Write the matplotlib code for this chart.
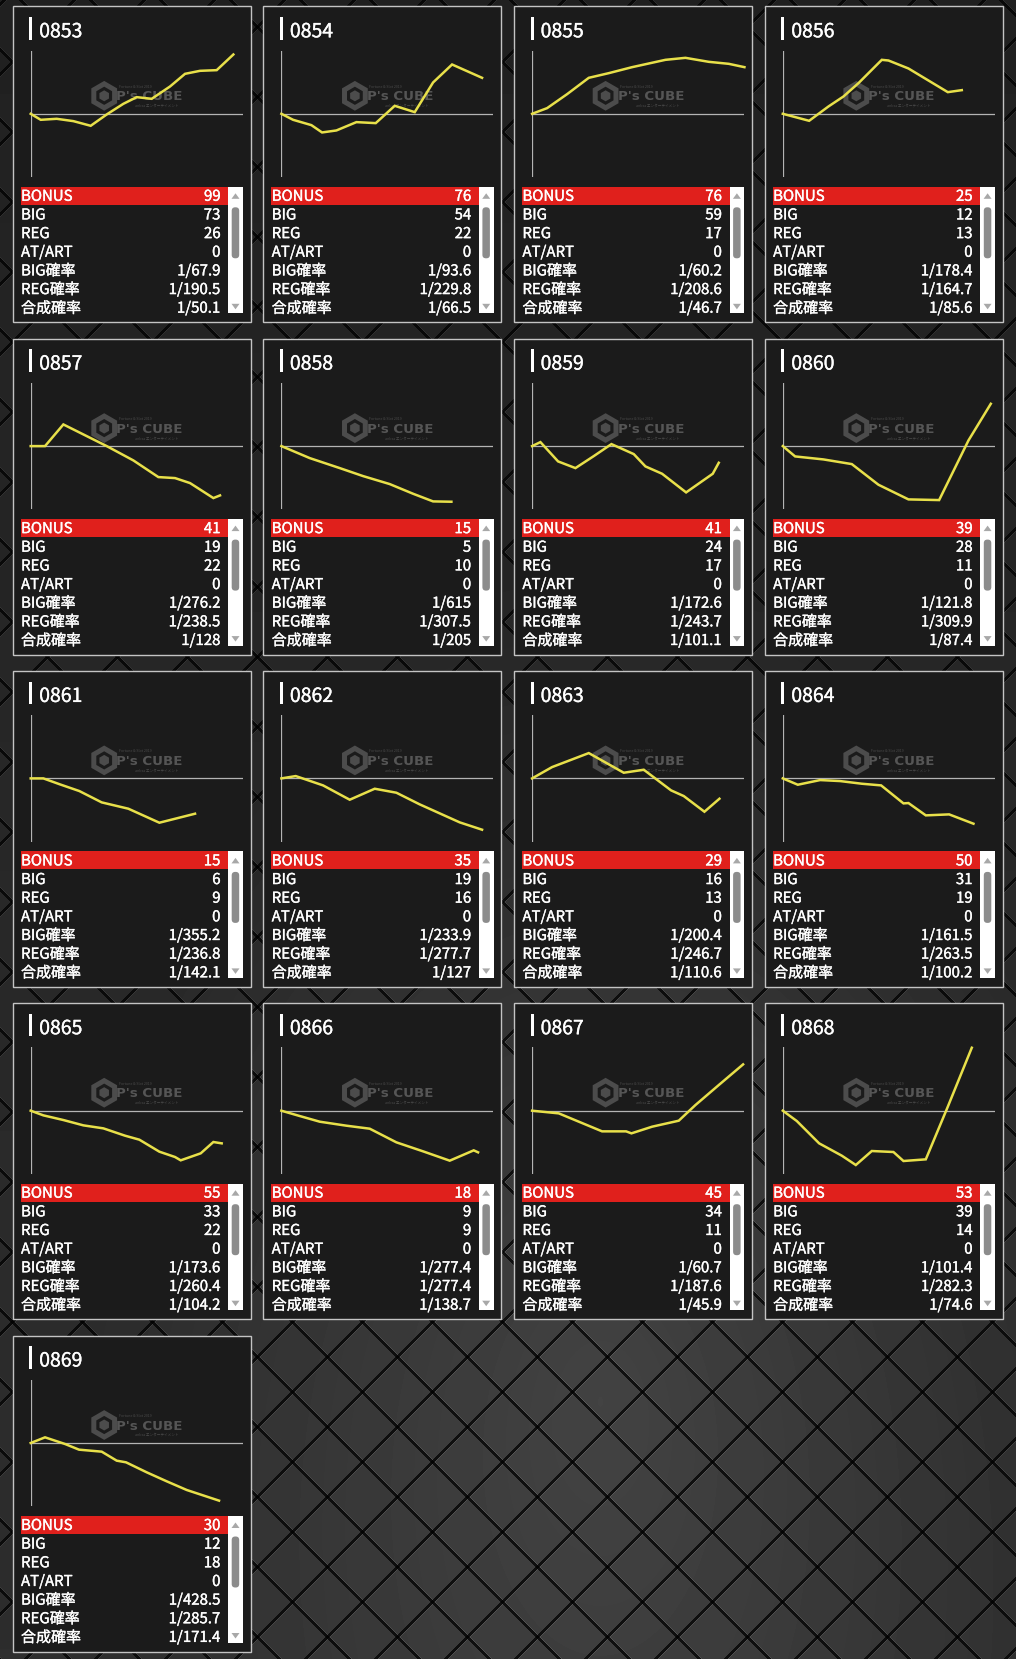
import numpy as np
import matplotlib.pyplot as plt
import matplotlib.patheffects as pe
from matplotlib.patches import Rectangle, FancyBboxPatch, RegularPolygon, Polygon

plt.rcParams['font.family'] = ['Noto Sans CJK JP', 'DejaVu Sans']

W, H = 1016, 1659

# --- data -------------------------------------------------------------
machines = ['0853', '0854', '0855', '0856', '0857', '0858', '0859', '0860', '0861',
            '0862', '0863', '0864', '0865', '0866', '0867', '0868', '0869']
bonus = [99, 76, 76, 25, 41, 15, 41, 39, 15, 35, 29, 50, 55, 18, 45, 53, 30]
big = [73, 54, 59, 12, 19, 5, 24, 28, 6, 19, 16, 31, 33, 9, 34, 39, 12]
reg = [26, 22, 17, 13, 22, 10, 17, 11, 9, 16, 13, 19, 22, 9, 11, 14, 18]
at_art = [0] * 17
big_prob = ['67.9', '93.6', '60.2', '178.4', '276.2', '615', '172.6', '121.8', '355.2',
            '233.9', '200.4', '161.5', '173.6', '277.4', '60.7', '101.4', '428.5']
reg_prob = ['190.5', '229.8', '208.6', '164.7', '238.5', '307.5', '243.7', '309.9', '236.8',
            '277.7', '246.7', '263.5', '260.4', '277.4', '187.6', '282.3', '285.7']
total_prob = ['50.1', '66.5', '46.7', '85.6', '128', '205', '101.1', '87.4', '142.1',
              '127', '110.6', '100.2', '104.2', '138.7', '45.9', '74.6', '171.4']

# slump graphs (x: progress, y: difference)
x0853 = [0, 30, 78, 128, 180, 228, 278, 318, 363, 418, 463, 508, 558, 608]
y0853 = [0, -18, -15, -22, -36, -2, 30, 50, 45, 82, 120, 129, 131, 178]
x0854 = [0, 35, 90, 122, 165, 225, 283, 340, 400, 455, 512, 602]
y0854 = [0, -18, -34, -56, -50, -25, -28, 24, 5, 94, 148, 108]
x0855 = [0, 45, 105, 170, 230, 300, 350, 400, 460, 530, 590, 637]
y0855 = [0, 17, 59, 108, 122, 140, 151, 162, 168, 156, 150, 140]
x0856 = [0, 79, 137, 182, 227, 297, 317, 377, 495, 537]
y0856 = [0, -21, 22, 52, 92, 162, 160, 136, 65, 71]
x0857 = [0, 43, 98, 228, 308, 383, 433, 478, 548, 568]
y0857 = [0, 0, 65, 0, -43, -93, -96, -111, -156, -148]
x0858 = [0, 85, 175, 245, 325, 395, 455, 510]
y0858 = [0, -36, -66, -90, -114, -143, -166, -167]
x0859 = [0, 25, 78, 130, 185, 238, 305, 340, 390, 462, 542, 560]
y0859 = [0, 12, -46, -66, -30, 6, -24, -61, -83, -139, -83, -50]
x0860 = [0, 37, 122, 207, 287, 377, 469, 557, 624]
y0860 = [0, -31, -40, -54, -116, -160, -162, 17, 127]
x0861 = [0, 38, 88, 146, 213, 293, 386, 493]
y0861 = [0, 0, -18, -38, -72, -91, -133, -106]
x0862 = [0, 43, 125, 205, 280, 345, 415, 475, 535, 602]
y0862 = [0, 7, -21, -64, -31, -43, -78, -105, -132, -154]
x0863 = [0, 60, 170, 275, 335, 417, 455, 517, 562]
y0863 = [0, 34, 76, 17, 26, -36, -53, -100, -61]
x0864 = [0, 45, 112, 172, 237, 295, 362, 377, 429, 499, 572]
y0864 = [0, -19, -5, -8, -16, -21, -75, -74, -111, -108, -136]
x0865 = [0, 38, 98, 158, 218, 283, 326, 386, 433, 450, 510, 548, 573]
y0865 = [0, -14, -28, -44, -53, -75, -87, -123, -139, -149, -128, -94, -98]
x0866 = [0, 55, 115, 195, 265, 345, 425, 505, 577, 590]
y0866 = [0, -16, -33, -45, -54, -95, -122, -150, -119, -125]
x0867 = [0, 80, 145, 210, 282, 298, 360, 440, 490, 560, 633]
y0867 = [0, -8, -35, -62, -62, -68, -48, -30, 17, 77, 139]
x0868 = [0, 42, 109, 177, 219, 267, 332, 362, 429, 495, 567]
y0868 = [0, -31, -98, -135, -163, -121, -124, -151, -146, 12, 189]
x0869 = [0, 43, 103, 145, 213, 258, 286, 348, 408, 468, 565]
y0869 = [0, 17, -3, -20, -26, -53, -58, -88, -115, -141, -173]

graphs_x = [x0853, x0854, x0855, x0856, x0857, x0858, x0859, x0860, x0861,
            x0862, x0863, x0864, x0865, x0866, x0867, x0868, x0869]
graphs_y = [y0853, y0854, y0855, y0856, y0857, y0858, y0859, y0860, y0861,
            y0862, y0863, y0864, y0865, y0866, y0867, y0868, y0869]

row_labels = ['BONUS', 'BIG', 'REG', 'AT/ART', 'BIG確率', 'REG確率', '合成確率']

# --- background (diamond plate) --------------------------------------
yy, xx = np.mgrid[0:H, 0:W].astype(float)
r = np.hypot((xx - 600) / W, (yy - 1400) / H)
base = 0.13 + 0.05 * (yy / H) + 0.09 * np.clip(1 - 2.0 * r, 0, 1)
P = 70.0
img = base.copy()
for d in [(xx + yy - 2) % P, (xx - yy - 19) % P]:
    img = np.where(d < 3.4, img * 0.25, img)
    img = np.where((d >= 3.4) & (d < 4.8), img * 1.35, img)

fig = plt.figure(figsize=(W / 100, H / 100), dpi=100)
ax = fig.add_axes([0, 0, 1, 1])
ax.imshow(img, cmap='gray', vmin=0, vmax=1, extent=(0, W, H, 0),
          interpolation='bilinear', zorder=0)
ax.set_xlim(0, W)
ax.set_ylim(H, 0)
ax.axis('off')

FS = 10.8
thick = [pe.withStroke(linewidth=0.25, foreground='white')]
for i, name in enumerate(machines):
    col, row = i % 4, i // 4
    L = 12.7 + col * 250.7
    T = 6.3 + row * 332.3
    # panel
    ax.add_patch(Rectangle((L, T), 238, 316, facecolor='#1b1b1b',
                           edgecolor='#c4c4c4', lw=1, zorder=2))
    # title
    ax.add_patch(Rectangle((L + 16.6, T + 10.7), 2.8, 22.5, facecolor='white',
                           edgecolor='none', zorder=3))
    ax.text(L + 26.5, T + 25.5, name, color='white', fontsize=14,
            va='center', ha='left', zorder=3, path_effects=thick)
    # watermark
    ax.add_patch(RegularPolygon((L + 91.5, T + 89.5), 6, radius=12,
                                orientation=0, facecolor='none',
                                edgecolor='#4c4c4c', lw=3.6, zorder=3))
    ax.add_patch(RegularPolygon((L + 91.5, T + 89.5), 6, radius=5.5,
                                orientation=0, facecolor='#4c4c4c',
                                edgecolor='none', zorder=3))
    ax.text(L + 103.5, T + 90.5, "P's CUBE", color='#555555', fontsize=9.6,
            family='DejaVu Sans', fontweight='bold', va='center', ha='left',
            zorder=3)
    ax.text(L + 106, T + 80.5, 'Fortune & Slot 2019', color='#4a4a4a',
            fontsize=2.6, va='center', ha='left', zorder=3)
    ax.text(L + 122, T + 99.5, 'anbas エンターテイメント', color='#4a4a4a',
            fontsize=2.6, va='center', ha='left', zorder=3)

    # table
    ax.add_patch(Rectangle((L + 8, T + 180.5), 207.5, 18, facecolor='#e0201c',
                           edgecolor='none', zorder=3))
    values = [bonus[i], big[i], reg[i], at_art[i],
              '1/' + big_prob[i], '1/' + reg_prob[i], '1/' + total_prob[i]]
    for k, (lab, val) in enumerate(zip(row_labels, values)):
        yc = T + 190.5 + k * 18.65
        ax.text(L + 8.3, yc, lab, color='white', fontsize=FS,
                va='center', ha='left', zorder=4, path_effects=thick)
        ax.text(L + 207.8, yc, str(val), color='white', fontsize=FS,
                va='center', ha='right', zorder=4, path_effects=thick)
    # scrollbar
    ax.add_patch(Rectangle((L + 215.6, T + 180.5), 14.5, 126.5, facecolor='white',
                           edgecolor='none', zorder=3))
    ax.add_patch(FancyBboxPatch((L + 219, T + 201), 7.5, 51,
                                boxstyle='round,pad=0,rounding_size=3.5',
                                facecolor='#8c8c8c', edgecolor='none', zorder=4))
    cx = L + 222.8
    ax.add_patch(Polygon([[cx - 4, T + 192.5], [cx + 4, T + 192.5], [cx, T + 187]],
                         facecolor='#a8a8a8', edgecolor='none', zorder=4))
    ax.add_patch(Polygon([[cx - 4, T + 297.5], [cx + 4, T + 297.5], [cx, T + 303]],
                         facecolor='#a8a8a8', edgecolor='none', zorder=4))

    # slump graph
    zero_y = T + 107.5
    gl = L + 18
    cax = fig.add_axes([gl / W, 1 - (zero_y + 63.3) / H, 212 / W, 126.6 / H])
    cax.set_xlim(0, 636)
    cax.set_ylim(-190, 190)
    cax.patch.set_alpha(0)
    for s in cax.spines.values():
        s.set_visible(False)
    cax.set_xticks([])
    cax.set_yticks([])
    cax.axhline(0, color='#b4b4b4', lw=0.9)
    cax.axvline(0, color='#b4b4b4', lw=0.9)
    cax.plot(graphs_x[i], graphs_y[i], color='#e8e04a', lw=1.8,
             solid_joinstyle='miter', clip_on=False)

fig.savefig('out.png', dpi=100)
